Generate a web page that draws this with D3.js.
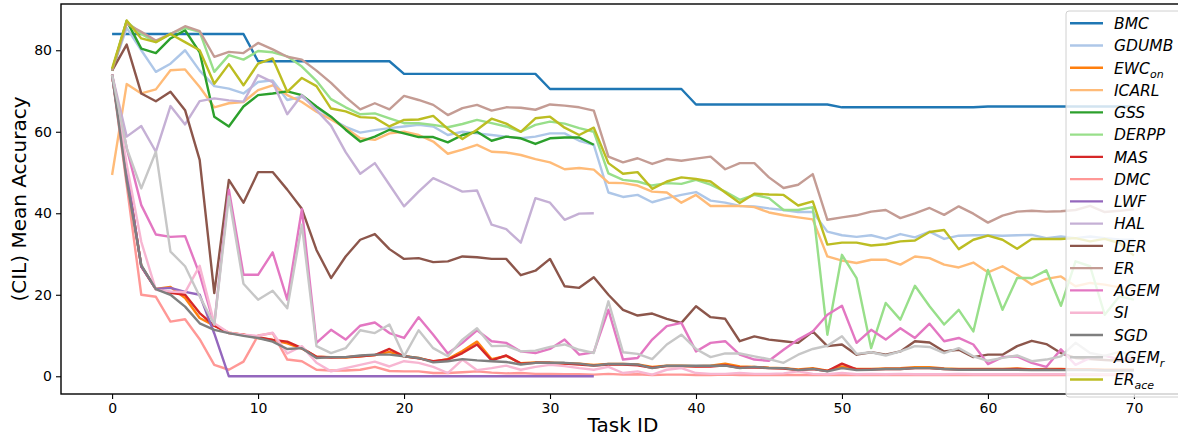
<!DOCTYPE html>
<html>
<head>
<meta charset="utf-8">
<script src="https://cdn.jsdelivr.net/npm/d3@7"></script>
<style>
  html, body { margin: 0; padding: 0; background: #fff; }
  svg { display: block; font-family: "DejaVu Sans", sans-serif; }
</style>
</head>
<body>
<svg id="chart" width="1178" height="438"></svg>
<script>
// ---- data: mean accuracy per task id ----
const bmc = [84,84,84,84,84,84,84,84,84,84, 77.3,77.3,77.3,77.3,77.3,77.3,77.3,77.3,77.3,77.3,
  74.2,74.2,74.2,74.2,74.2,74.2,74.2,74.2,74.2,74.2, 70.5,70.5,70.5,70.5,70.5,70.5,70.5,70.5,70.5,70.5,
  66.7,66.7,66.7,66.7,66.7,66.7,66.7,66.7,66.7,66.7, 66,66,66,66,66,66,66,66,66,66,
  66.2,66.2,66.2,66.2,66.2,66.2,66.2,66.2,66.2,66.2,66.2];
const gdumb = [75,85.5,80,74.7,76.7,80,75,71.2,70.6,69.4, 72.2,72.6,67.8,68.6,66.1,63.2,61.2,59.8,60.4,60.9,
  61.3,61.7,61.3,59.2,60,59.6,59.2,58.8,58.4,58.8, 59.6,59.6,57.8,56.8,45.1,44,44.5,42.7,43.7,44.5,
  45.2,43.1,42.6,41.8,41.7,41.2,40.8,40.3,40.3,35.5, 34.6,34.2,34.6,33.7,34.9,34.1,35.5,33.7,34.5,34.6,
  34.6,34.5,34.6,34.7,33.9,34.3,33.9,34.3,33.9,33.6,33.5];
const ewcOn = [74,50,27,21.4,21.9,19.2,14.3,12.4,10.7,10.2, 9.4,8.9,8.1,6.8,4.8,4.7,4.6,4.9,5.2,6,
  4.9,4.5,3.6,4.2,6.2,8.5,4.2,5,3.2,3.4, 3.3,3.2,3.1,2.8,3,3,2.9,2.3,2.6,2.6,
  2.5,2.6,3.1,2.4,2.3,2.1,2,1.7,2,1.4, 2.4,1.8,1.8,1.9,2,2.2,2.2,1.9,1.8,1.8,
  1.8,1.8,1.9,1.7,1.8,1.8,1.7,1.7,1.6,1.6,1.6];
const icarl = [49.4,71.7,69.4,70.4,75.1,75.3,71,66,67,67.3, 70.2,71.4,69,67.3,64.9,63,60.9,58.4,58,59.6,
  60,59.2,57.6,54.6,55.6,56.8,55.1,54.9,54.3,53.3, 52.5,50.8,51.1,50.7,47.5,47.4,46.8,45.3,45.1,42.6,
  44.5,41.8,41.8,41.8,41.5,40.2,39.5,39,38.5,29.4, 28.4,27.8,28.6,28.6,27.4,29.4,29,27.4,26.7,27.9,
  25.5,27,24.9,22.5,23.9,24.5,22.1,22.9,22.5,21.8,21.7];
const gss = [75,87.2,80.4,79.3,82.9,84.9,79.5,63.7,61.3,66.2, 69,69.4,69.9,69,66.2,63.7,60.5,57.6,58.8,60.5,
  59.6,58.7,58.7,57.4,59.2,60,57.8,58.8,58.4,57, 58.4,58.6,58.6,56.8];
const derpp = [75,87,84,82,84,85.5,84.5,74.7,78.8,77.7, 79.8,79.5,78.5,76,72.5,68,66,64.3,64.5,63.3,
  62.1,62.1,61.7,61.1,61.9,62.9,62.1,61.3,60,61.7, 62.5,62,60.9,60,49.8,48.2,47.8,46.8,47.4,47.2,
  48.2,47,45.3,43.3,44.5,43.7,40.8,40.8,41.5,10.2, 29.8,24.1,6.9,18,13.9,22.2,17.2,12.7,16.3,11,
  26.1,16.3,24.1,24.1,26,17.3,28.2,27,15.1,19.6,18.8];
const mas = [74,50,27,21.4,20.5,20,15.5,12.4,10.6,10.2, 9.6,8.9,8.5,6.9,4.8,4.6,4.7,4.9,5.2,6.7,
  4.9,4.4,3.7,4.1,5.7,7.8,3.9,5.1,3.1,3.3, 3.3,3.1,2.9,2.6,2.9,2.9,2.7,2.1,2.5,2.5,
  2.4,2.4,2.7,2.1,2.2,2,1.9,1.5,1.8,1.3, 3.1,1.7,1.7,1.8,1.8,2,2,1.8,1.7,1.7,
  1.7,1.7,1.8,1.6,1.7,1.7,1.6,1.6,1.5,1.5,1.5];
const dmc = [74,47,20,19.5,13.4,14,9.1,2.8,1.6,3.6, 10,10.6,4.1,3.7,1.6,1.4,1.4,1.6,2.3,1.3,
  1.2,1.2,0.8,0.8,1,1.2,0.9,0.7,0.8,0.6, 0.6,0.5,0.5,0.4,0.6,0.4,0.5,0.3,0.4,0.4,
  0.3,0.3,0.4,0.3,0.3,0.3,0.3,0.3,0.3,0.3, 0.3,0.3,0.3,0.3,0.3,0.3,0.3,0.3,0.3,0.3,
  0.3,0.3,0.3,0.3,0.3,0.3,0.3,0.3,0.3,0.3,0.3];
const lwf = [74,50,27,21.4,21.7,20.7,20,10.5,0,0, 0,0,0,0,0,0,0,0,0,0,
  0,0,0,0,0,0,0,0,0,0, 0,0,0,0];
const hal = [74,58.8,61.4,55.1,66.3,61.8,67.5,68.2,67.7,67.4, 73.9,72.2,64.3,69,65.3,61.5,55,49.7,52.3,47,
  41.7,45.3,48.6,47,45.3,45.6,37.2,36.1,32.8,43.7, 42.6,38.4,39.9,40];
const der = [75,81.4,69.4,67.5,69.8,65.3,53.1,20.4,48.2,42.6, 50.1,50.1,45.8,41.1,31,24.1,29.4,33.5,34.9,31.2,
  28.8,29,28,28.2,29.4,29.2,28.8,28.8,24.8,25.9, 28.8,22.1,21.7,24.3,20,16.3,14.9,15.4,14.1,13.1,
  17.2,14.5,14.1,8.6,9.8,9,8.6,8.2,11,7.4, 7.8,5.3,5.9,5.3,6.1,8.6,8.3,6.1,6.5,4.7,
  5.3,5.3,7.4,8.7,7.9,5.7,4.5,4.2,4,3.8,4];
const er = [75,86.5,84.5,82.4,84,85.9,84.7,78.4,79.6,79.3, 81.8,80.2,78.4,77.7,75,72,68.5,65.5,67,65.5,
  68.8,67.8,66.6,64.1,65.8,66.6,65.2,66,65.9,65.4, 66.7,66.4,66,65.2,53.9,52.5,53.5,52.1,53.3,52.9,
  53.4,53.9,50.8,52.3,52.3,48.8,46.2,47,49.6,38.4, 39,39.5,40.4,40.8,38.8,40,41.3,39.6,41.7,39.9,
  37.7,39.4,40.4,40.6,40.4,40.5,40.8,41.8,40.3,40.6,41];
const agem = [74,56,42,34.8,34.2,34.4,25,12.7,45.8,24.9, 24.9,30.4,18.8,41,8.2,11.4,9,12.4,13.2,10.6,
  9.4,14.5,10.2,5.6,8.2,11.3,8.6,8.2,6.1,5.7, 6.7,9,5.3,5.9,16.3,4.1,4.5,9,12.3,13.1,
  6.1,8.2,8.6,5.3,4.1,3.8,6.5,9,11,15.1, 17.3,8.2,11.4,9,11.8,9.4,12.9,8.6,9.4,7.8,
  3,4.7,4.9,3.3,2.3,6.6,2.8,4.5,5,4.2,4.6];
const si = [74,52,33,21.2,20.8,20.6,27.1,13,10.7,10.2, 9.9,10.7,5.6,7.4,3.3,1.2,2,2.8,3.6,2.4,
  3.7,3.3,2.3,0.8,4.1,1.5,2,2.6,1.6,2.3, 2.8,2.5,2,1.6,2.3,0.8,1.2,0.4,1.6,2,
  0.8,0.6,0.6,0.8,0.6,0.6,0.7,1.2,0.6,0.5, 0.8,0.5,0.6,0.5,0.6,0.5,0.5,0.5,0.6,0.5,
  0.5,0.5,0.5,0.5,0.5,0.5,0.5,0.5,0.5,0.5,0.5];
const sgd = [74,48,27.3,21.4,20,17.1,13,11.4,10.6,9.9, 9.4,8.5,6.7,6.9,4.5,4.7,4.7,5.1,5.3,5.3,
  4.9,4.5,3.4,3.7,4.2,3.9,3.7,3.5,2.9,3.3, 3.3,3.3,3.1,2.6,3,3,2.9,2,2.6,2.6,
  2.6,2.6,2.6,2,2.3,2,2,1.5,1.8,1.2, 2,1.5,1.6,1.8,1.8,2,2,1.8,1.6,1.6,
  1.6,1.6,1.6,1.5,1.6,1.5,1.5,1.5,1.4,1.4,1.4];
const agemR = [74,56,46.1,55.1,30.6,27,19.6,12.7,44.1,22.7, 18.8,21,16.7,37.2,7.4,5.7,6.9,11.3,10.6,12.7,
  4.9,11.3,6.9,4.9,9,11.8,7.4,7.5,6.1,6.3, 7.2,7.8,6.5,5.7,18.4,5.9,5.5,4.2,7.8,10.2,
  6.7,4.7,5.6,5.6,4.9,4.2,3.3,5.3,6.7,7.5, 9.8,5.5,5.9,5.1,6.1,7.4,7.2,5.7,6.9,4.9,
  3.8,4.5,5.1,3.7,4.1,4.9,8.2,5.7,5,6,5];
const erAce = [75.5,87.3,82.9,82,84,82,80,71.8,76.6,71.4, 76.7,78,69.8,73.2,71.2,65.7,65,63.6,63.4,61.3,
  62.9,63,63.9,60.7,58.2,60.5,63.2,62,60,63.3, 63.7,61,59.2,61,52.3,49.7,50.1,46,47.8,48.8,
  48.4,47.8,45.1,42.5,44.8,44.6,44.5,41.9,42.9,32.3, 32.8,32.8,32.1,32.4,33.1,33.3,35.4,35.9,31.2,33.5,
  34.5,33.5,31.3,33.7,33.7,33.7,33.9,33.1,33.7,32.7,29.6];

const names = ["BMC","GDUMB","EWC|on","ICARL","GSS","DERPP","MAS","DMC","LWF","HAL","DER","ER","AGEM","SI","SGD","AGEM|r","ER|ace"];
const values = [bmc,gdumb,ewcOn,icarl,gss,derpp,mas,dmc,lwf,hal,der,er,agem,si,sgd,agemR,erAce];
const colors = ["#1f77b4","#aec7e8","#ff7f0e","#ffbb78","#2ca02c","#98df8a","#d62728","#ff9896","#9467bd",
  "#c5b0d5","#8c564b","#c49c94","#e377c2","#f7b6d2","#7f7f7f","#c7c7c7","#bcbd22"];
const xTicks = [0,10,20,30,40,50,60,70];
const yTicks = [0,20,40,60,80];

// ---- layout ----
const plotLeft = 61, plotTop = 4, plotBottom = 394, plotRight = 1185;
const x = d3.scaleLinear().domain([-3.5, 73.5]).range([plotLeft, plotRight]);
const y = d3.scaleLinear().domain([-4.35, 91.35]).range([plotBottom, plotTop]);

const svg = d3.select("#chart");

// lines
const line = d3.line().x((d, i) => x(i)).y(d => y(d));
svg.append("g")
  .selectAll("path")
  .data(values)
  .join("path")
  .attr("d", d => line(d))
  .attr("fill", "none")
  .attr("stroke", (d, i) => colors[i])
  .attr("stroke-width", 2.4)
  .attr("stroke-linejoin", "round");

// axes
const xAxis = svg.append("g")
  .attr("transform", `translate(0,${plotBottom})`)
  .call(d3.axisBottom(x).tickValues(xTicks).tickSize(5).tickPadding(4).tickSizeOuter(0));
const yAxis = svg.append("g")
  .attr("transform", `translate(${plotLeft},0)`)
  .call(d3.axisLeft(y).tickValues(yTicks).tickSize(5).tickPadding(4).tickSizeOuter(0));
[xAxis, yAxis].forEach(a => {
  a.select(".domain").remove();
  a.selectAll("text").attr("font-size", 14).attr("font-family", "DejaVu Sans").attr("fill", "#000");
  a.selectAll("line").attr("stroke", "#000").attr("stroke-width", 1.1);
});

// frame
svg.append("rect")
  .attr("x", plotLeft).attr("y", plotTop)
  .attr("width", plotRight - plotLeft).attr("height", plotBottom - plotTop)
  .attr("fill", "none").attr("stroke", "#000").attr("stroke-width", 1.4);

// axis labels
svg.append("text")
  .attr("x", x(35)).attr("y", 432)
  .attr("text-anchor", "middle").attr("font-size", 20)
  .text("Task ID");
svg.append("text")
  .attr("transform", `translate(26,${(plotTop + plotBottom) / 2}) rotate(-90)`)
  .attr("text-anchor", "middle").attr("font-size", 20)
  .text("(CIL) Mean Accuracy");

// legend
const legend = svg.append("g");
legend.append("rect")
  .attr("x", 1066).attr("y", 11).attr("width", 130).attr("height", 386).attr("rx", 3)
  .attr("fill", "#fff").attr("fill-opacity", 0.8)
  .attr("stroke", "#d0d0d0").attr("stroke-width", 1);
const items = legend.selectAll("g.item")
  .data(names)
  .join("g")
  .attr("class", "item")
  .attr("transform", (d, i) => `translate(0,${23.3 + i * 22.26})`);
items.append("line")
  .attr("x1", 1070).attr("x2", 1103)
  .attr("stroke", (d, i) => colors[i]).attr("stroke-width", 2.4);
items.append("text")
  .attr("x", 1114).attr("y", 5.8)
  .attr("font-size", 15.5).attr("font-style", "italic")
  .each(function (d) {
    const [main, sub] = d.split("|");
    const t = d3.select(this);
    t.append("tspan").text(main);
    if (sub) t.append("tspan").attr("font-size", 11).attr("dy", 4).text(sub);
  });
</script>
</body>
</html>
